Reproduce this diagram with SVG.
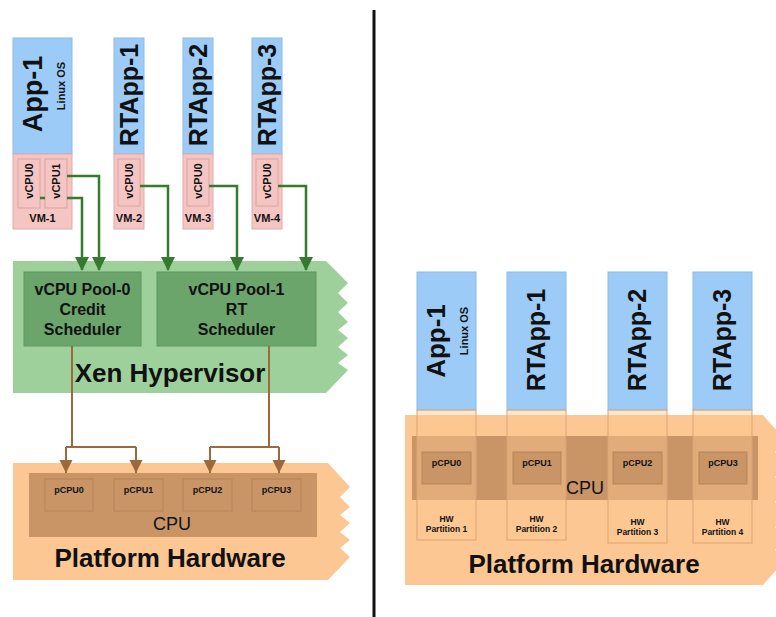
<svg xmlns="http://www.w3.org/2000/svg" width="776" height="617" viewBox="0 0 776 617">
<style>
text{font-family:"Liberation Sans",Arial,sans-serif;fill:#111}
.b{font-weight:bold}
.app{fill:#9dcbf7;stroke:#8cbbe6;stroke-width:1}
.vm{fill:#f5c5c3;stroke:#e3aaa8;stroke-width:1}
.vcpu{fill:#f5c5c3;stroke:#dba3a1;stroke-width:1}
.xen{fill:#9dd09b}
.pool{fill:#6ba56c;stroke:#5e9860;stroke-width:1}
.hw{fill:#fcc793}
.cpu{fill:#c99567}
.pcpu{fill:#c99567;stroke:#b5845a;stroke-width:1}
.col{fill:#ffc890;fill-opacity:0.45;stroke:#d9a576;stroke-width:1}
.g{fill:none;stroke:#357a2e;stroke-width:2.5}
.br{fill:none;stroke:#9b6a3c;stroke-width:2}
</style>
<defs>
<marker id="ga" markerWidth="14" markerHeight="16" refX="13" refY="7" orient="auto" markerUnits="userSpaceOnUse"><path d="M0,0 L14,7 L0,14 Z" fill="#357a2e"/></marker>
<marker id="ba" markerWidth="14" markerHeight="14" refX="13" refY="6.5" orient="auto" markerUnits="userSpaceOnUse"><path d="M0,0 L13,6.5 L0,13 Z" fill="#9b6a3c"/></marker>
</defs>

<!-- divider -->
<line x1="374" y1="10" x2="374" y2="617" stroke="#111" stroke-width="3"/>

<!-- LEFT: Xen hypervisor -->
<g id="xen-hypervisor">
<path class="xen" d="M13 261 H326 L348 283 L338 293 L348 303 L338 312 L348 322 L338 330 L348 338 L338 347 L348 355 L338 363 L348 370 L326 393 H13 Z"/>
<text class="b" x="170" y="382" font-size="26" text-anchor="middle">Xen Hypervisor</text>
</g>
<g id="pool-0">
<rect class="pool" x="24" y="272" width="117" height="74"/>
<text class="b" x="82.5" y="295" font-size="16" text-anchor="middle">vCPU Pool-0</text>
<text class="b" x="82.5" y="315" font-size="16" text-anchor="middle">Credit</text>
<text class="b" x="82.5" y="335" font-size="16" text-anchor="middle">Scheduler</text>
</g>
<g id="pool-1">
<rect class="pool" x="157" y="272" width="159" height="74"/>
<text class="b" x="236.5" y="295" font-size="16" text-anchor="middle">vCPU Pool-1</text>
<text class="b" x="236.5" y="315" font-size="16" text-anchor="middle">RT</text>
<text class="b" x="236.5" y="335" font-size="16" text-anchor="middle">Scheduler</text>
</g>

<!-- LEFT: platform hardware -->
<g id="platform-left">
<path class="hw" d="M13 463 H328 L350 487 L340 497 L350 507 L340 515 L350 523 L340 532 L350 540 L340 548 L350 557 L328 580 H13 Z"/>
<rect class="cpu" x="29" y="473" width="288" height="64"/>
<text x="172" y="530" font-size="18" text-anchor="middle">CPU</text>
<text class="b" x="170" y="567" font-size="26" text-anchor="middle">Platform Hardware</text>
</g>
<g id="pcpu0-left"><rect class="pcpu" x="45" y="479" width="48" height="32"/><text class="b" x="69" y="493" font-size="9" text-anchor="middle">pCPU0</text></g>
<g id="pcpu1-left"><rect class="pcpu" x="114" y="479" width="49" height="32"/><text class="b" x="138.5" y="493" font-size="9" text-anchor="middle">pCPU1</text></g>
<g id="pcpu2-left"><rect class="pcpu" x="183" y="479" width="49" height="32"/><text class="b" x="207.5" y="493" font-size="9" text-anchor="middle">pCPU2</text></g>
<g id="pcpu3-left"><rect class="pcpu" x="252" y="479" width="49" height="32"/><text class="b" x="276.5" y="493" font-size="9" text-anchor="middle">pCPU3</text></g>

<!-- LEFT: VMs -->
<g id="vm-1">
<rect class="app" x="13" y="38" width="59" height="116"/>
<rect class="vm" x="13" y="154" width="59" height="75"/>
<text class="b" font-size="27" text-anchor="middle" transform="translate(42 94) rotate(-90)">App-1</text>
<text class="b" font-size="11" text-anchor="middle" transform="translate(65 86) rotate(-90)">Linux OS</text>
<rect class="vcpu" x="18" y="159" width="22" height="49"/>
<text class="b" font-size="11" text-anchor="middle" transform="translate(33 181) rotate(-90)">vCPU0</text>
<rect class="vcpu" x="45" y="159" width="22" height="49"/>
<text class="b" font-size="11" text-anchor="middle" transform="translate(60 181) rotate(-90)">vCPU1</text>
<text class="b" x="42.5" y="222" font-size="11" text-anchor="middle">VM-1</text>
</g>
<g id="vm-2">
<rect class="app" x="114" y="38" width="30" height="116"/>
<rect class="vm" x="114" y="154" width="30" height="75"/>
<text class="b" font-size="25" text-anchor="middle" transform="translate(138 95) rotate(-90)">RTApp-1</text>
<rect class="vcpu" x="118" y="159" width="22" height="47"/>
<text class="b" font-size="11" text-anchor="middle" transform="translate(133 181) rotate(-90)">vCPU0</text>
<text class="b" x="129" y="222" font-size="11" text-anchor="middle">VM-2</text>
</g>
<g id="vm-3">
<rect class="app" x="183" y="38" width="30" height="116"/>
<rect class="vm" x="183" y="154" width="30" height="75"/>
<text class="b" font-size="25" text-anchor="middle" transform="translate(207 95) rotate(-90)">RTApp-2</text>
<rect class="vcpu" x="187" y="159" width="22" height="47"/>
<text class="b" font-size="11" text-anchor="middle" transform="translate(202 181) rotate(-90)">vCPU0</text>
<text class="b" x="198" y="222" font-size="11" text-anchor="middle">VM-3</text>
</g>
<g id="vm-4">
<rect class="app" x="252" y="38" width="30" height="116"/>
<rect class="vm" x="252" y="154" width="30" height="75"/>
<text class="b" font-size="25" text-anchor="middle" transform="translate(276 95) rotate(-90)">RTApp-3</text>
<rect class="vcpu" x="256" y="159" width="22" height="47"/>
<text class="b" font-size="11" text-anchor="middle" transform="translate(271 181) rotate(-90)">vCPU0</text>
<text class="b" x="267" y="222" font-size="11" text-anchor="middle">VM-4</text>
</g>

<!-- connectors -->
<g id="connectors">
<path class="g" d="M40 198 H45"/>
<path class="g" d="M67 198 H82 V270" marker-end="url(#ga)"/>
<path class="g" d="M67 176 H99 V270" marker-end="url(#ga)"/>
<path class="g" d="M140 186 H168 V270" marker-end="url(#ga)"/>
<path class="g" d="M209 186 H237 V270" marker-end="url(#ga)"/>
<path class="g" d="M278 186 H306 V270" marker-end="url(#ga)"/>
<path class="br" d="M72 346 V447"/>
<path class="br" d="M66 447 H136"/>
<path class="br" d="M66 447 V473" marker-end="url(#ba)"/>
<path class="br" d="M136 447 V473" marker-end="url(#ba)"/>
<path class="br" d="M269 346 V447"/>
<path class="br" d="M210 447 H279"/>
<path class="br" d="M210 447 V473" marker-end="url(#ba)"/>
<path class="br" d="M279 447 V473" marker-end="url(#ba)"/>
</g>

<!-- RIGHT: platform hardware -->
<g id="platform-right">
<path class="hw" d="M405 415 H763 L785 440 L775 452 L785 465 L775 477 L785 490 L775 502 L785 515 L775 527 L785 540 L775 550 L785 560 L763 585 H405 Z"/>
<rect class="cpu" x="412" y="436" width="346" height="64"/>
<text class="b" x="584" y="573" font-size="26" text-anchor="middle">Platform Hardware</text>
</g>
<g id="partition-1">
<rect class="app" x="417" y="272" width="59" height="138"/>
<rect class="col" x="417" y="410" width="59" height="130"/>
<text class="b" font-size="26" text-anchor="middle" transform="translate(445 341) rotate(-90)">App-1</text>
<text class="b" font-size="11" text-anchor="middle" transform="translate(468 331) rotate(-90)">Linux OS</text>
<rect class="pcpu" x="422" y="452" width="49" height="32"/>
<text class="b" x="446.5" y="466" font-size="9" text-anchor="middle">pCPU0</text>
<text class="b" x="446.5" y="522" font-size="8.5" text-anchor="middle">HW</text>
<text class="b" x="446.5" y="532" font-size="8.5" text-anchor="middle">Partition 1</text>
</g>
<g id="partition-2">
<rect class="app" x="507" y="272" width="59" height="138"/>
<rect class="col" x="507" y="410" width="59" height="130"/>
<text class="b" font-size="25" text-anchor="middle" transform="translate(545 340) rotate(-90)">RTApp-1</text>
<rect class="pcpu" x="513" y="452" width="48" height="32"/>
<text class="b" x="537" y="466" font-size="9" text-anchor="middle">pCPU1</text>
<text class="b" x="536.5" y="522" font-size="8.5" text-anchor="middle">HW</text>
<text class="b" x="536.5" y="532" font-size="8.5" text-anchor="middle">Partition 2</text>
</g>
<g id="partition-3">
<rect class="app" x="608" y="272" width="59" height="138"/>
<rect class="col" x="608" y="410" width="59" height="133"/>
<text class="b" font-size="25" text-anchor="middle" transform="translate(646 340) rotate(-90)">RTApp-2</text>
<rect class="pcpu" x="613" y="452" width="49" height="32"/>
<text class="b" x="637.5" y="466" font-size="9" text-anchor="middle">pCPU2</text>
<text class="b" x="637.5" y="525" font-size="8.5" text-anchor="middle">HW</text>
<text class="b" x="637.5" y="535" font-size="8.5" text-anchor="middle">Partition 3</text>
</g>
<g id="partition-4">
<rect class="app" x="693" y="272" width="59" height="138"/>
<rect class="col" x="693" y="410" width="59" height="133"/>
<text class="b" font-size="25" text-anchor="middle" transform="translate(731 340) rotate(-90)">RTApp-3</text>
<rect class="pcpu" x="699" y="452" width="48" height="32"/>
<text class="b" x="723" y="466" font-size="9" text-anchor="middle">pCPU3</text>
<text class="b" x="722.5" y="525" font-size="8.5" text-anchor="middle">HW</text>
<text class="b" x="722.5" y="535" font-size="8.5" text-anchor="middle">Partition 4</text>
</g>
<text x="585" y="494" font-size="18" text-anchor="middle">CPU</text>
</svg>
